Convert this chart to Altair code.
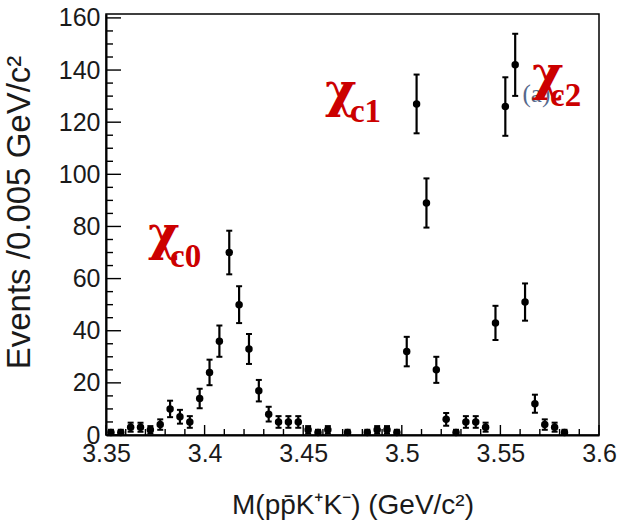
import math
import altair as alt
import pandas as pd

# Bin centres (GeV/c^2, bin width 0.005) and event counts per bin
mass = [3.3525, 3.3575, 3.3625, 3.3675, 3.3725, 3.3775, 3.3825, 3.3875, 3.3925, 3.3975,
        3.4025, 3.4075, 3.4125, 3.4175, 3.4225, 3.4275, 3.4325, 3.4375, 3.4425, 3.4475,
        3.4525, 3.4575, 3.4625, 3.4725, 3.4825, 3.4875, 3.4925, 3.4975,
        3.5025, 3.5075, 3.5125, 3.5175, 3.5225, 3.5275, 3.5325, 3.5375, 3.5425,
        3.5475, 3.5525, 3.5575, 3.5625, 3.5675, 3.5725, 3.5775, 3.5825]
counts = [1, 1, 3, 3, 2, 4, 10, 7, 5, 14,
          24, 36, 70, 50, 33, 17, 8, 5, 5, 5,
          2, 1, 2, 1, 1, 2, 2, 1,
          32, 127, 89, 25, 6, 1, 5, 5, 3,
          43, 126, 142, 51, 12, 4, 3, 1]

x_major = [3.35, 3.40, 3.45, 3.50, 3.55, 3.60]
x_minor = [3.36, 3.37, 3.38, 3.39, 3.41, 3.42, 3.43, 3.44, 3.46, 3.47, 3.48, 3.49,
           3.51, 3.52, 3.53, 3.54, 3.56, 3.57, 3.58, 3.59]
y_major = [0, 20, 40, 60, 80, 100, 120, 140, 160]
y_minor = [5, 10, 15, 25, 30, 35, 45, 50, 55, 65, 70, 75, 85, 90, 95, 105, 110, 115,
           125, 130, 135, 145, 150, 155]

# Resonance labels: symbol and subscript placed separately
chi_x = [3.3713, 3.4611, 3.5660]
chi_y = [70.8, 125.8, 132.3]
sub_text = ["c0", "c1", "c2"]
sub_x = [3.3825, 3.4737, 3.5752]
sub_y = [64.6, 120.0, 126.2]

W, H = 493, 421
XDOM = [3.35, 3.60]
YDOM = [0, 161.5]

df = pd.DataFrame({"m": mass, "n": counts})
df["err"] = [math.sqrt(v) for v in counts]
df["lo"] = df["n"] - df["err"]
df["hi"] = df["n"] + df["err"]

xs = alt.Scale(domain=XDOM, nice=False, zero=False)
ys = alt.Scale(domain=YDOM, nice=False)

FONT = "Liberation Sans"
INK = "#1a1a1a"

XAX = alt.Axis(
    values=x_major, format="~g", title="M(pp\u0304K\u207aK\u207b) (GeV/c\u00b2)",
    ticks=False, grid=False, labelFont=FONT, labelFontSize=25, labelColor=INK,
    labelPadding=6, labelFlush=False, labelOverlap=False,
    titleFont=FONT, titleFontSize=28, titleFontWeight="normal", titleColor=INK,
    titleY=70, titleBaseline="middle",
    domainColor="black", domainWidth=2)
YAX = alt.Axis(
    values=y_major, format="d", title="Events /0.005 GeV/c\u00b2",
    ticks=False, grid=False, labelFont=FONT, labelFontSize=25, labelColor=INK,
    labelPadding=6, labelOverlap=False, labelFlush=False,
    titleFont=FONT, titleFontSize=33, titleFontWeight="normal", titleColor=INK,
    titleX=-87, titleY=198, titleAngle=270, titleAlign="center", titleBaseline="middle",
    domainColor="black", domainWidth=2)


def X(field):
    return alt.X(field, scale=xs, axis=XAX)


def Y(field):
    return alt.Y(field, scale=ys, axis=YAX)


points = alt.Chart(df).mark_circle(size=56, color="black", opacity=1).encode(
    x=X("m:Q"), y=Y("n:Q"),
)

bars = alt.Chart(df).mark_rule(color="black", strokeWidth=2.2).encode(
    x=X("m:Q"), y=Y("lo:Q"), y2="hi:Q",
)
cap_lo = alt.Chart(df).mark_tick(orient="horizontal", size=6, thickness=2, color="black", opacity=1).encode(
    x=X("m:Q"), y=Y("lo:Q"),
)
cap_hi = alt.Chart(df).mark_tick(orient="horizontal", size=6, thickness=2, color="black", opacity=1).encode(
    x=X("m:Q"), y=Y("hi:Q"),
)


# Inward-pointing tick marks along the bottom and left axes
def xticks(vals, length):
    return alt.Chart(pd.DataFrame({"t": vals})).mark_rule(color="black", strokeWidth=1.4).encode(
        x=X("t:Q"), y=alt.value(H), y2=alt.value(H - length),
    )


def yticks(vals, length):
    return alt.Chart(pd.DataFrame({"t": vals})).mark_rule(color="black", strokeWidth=1.4).encode(
        y=Y("t:Q"), x=alt.value(0), x2=alt.value(length),
    )


tag = alt.Chart(pd.DataFrame({"x": [3.5612], "y": [127.7], "t": ["(a)"]})).mark_text(
    font="Liberation Serif", fontSize=25, color="#56698c", align="left", baseline="alphabetic"
).encode(x=X("x:Q"), y=Y("y:Q"), text="t:N")

chis = alt.Chart(pd.DataFrame({"x": chi_x, "y": chi_y, "t": ["\u03c7"] * 3})).mark_text(
    font="DejaVu Serif", fontSize=48, fontWeight="bold", color="#cc0000",
    align="left", baseline="alphabetic"
).encode(x=X("x:Q"), y=Y("y:Q"), text="t:N")

subs = alt.Chart(pd.DataFrame({"x": sub_x, "y": sub_y, "t": sub_text})).mark_text(
    font="Liberation Serif", fontSize=33, fontWeight="bold", color="#cc0000",
    align="left", baseline="alphabetic"
).encode(x=X("x:Q"), y=Y("y:Q"), text="t:N")

chart = alt.layer(
    points, bars, cap_lo, cap_hi,
    xticks(x_major, 10), xticks(x_minor, 6), yticks(y_major, 15), yticks(y_minor, 7),
    tag, chis, subs,
).properties(
    width=W, height=H,
    autosize=alt.AutoSizeParams(type="none"),
    padding={"left": 106, "top": 14, "right": 22, "bottom": 93},
    background="white",
).configure_view(stroke="black", strokeWidth=1.5)

chart.save("out.html", embed_options={"renderer": "svg", "actions": False})
